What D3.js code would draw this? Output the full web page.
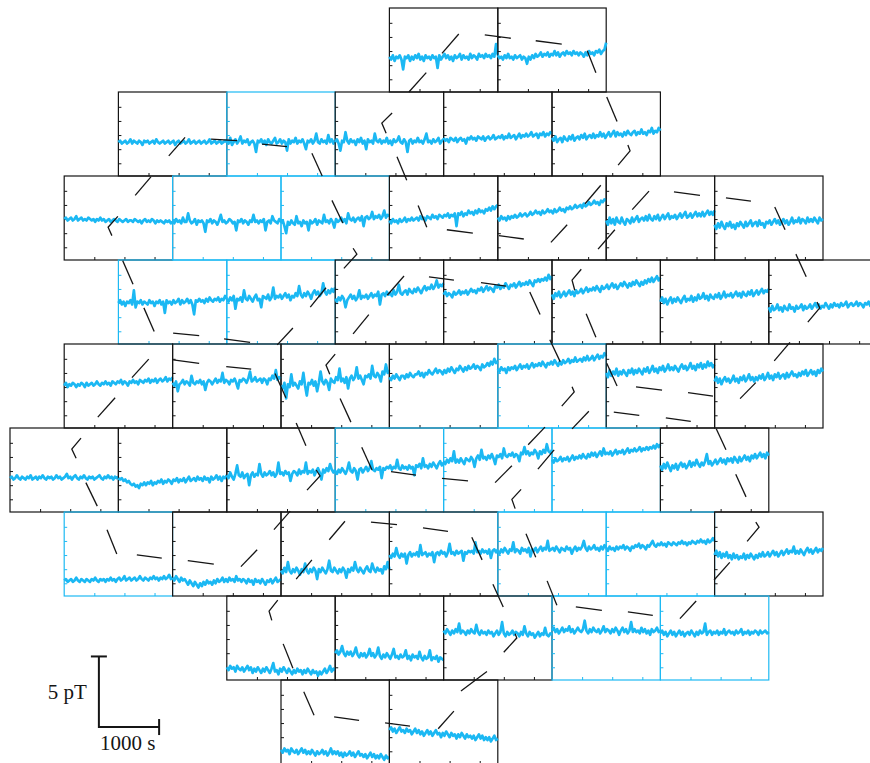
<!DOCTYPE html>
<html>
<head>
<meta charset="utf-8">
<script src="https://cdn.jsdelivr.net/npm/d3@7"></script>
<style>
  html, body { margin: 0; padding: 0; background: #fff; }
  svg { display: block; }
</style>
</head>
<body>
<svg id="chart" width="870" height="763"></svg>
<script>
// Sensor layout: row index and column in half-panel steps
const sensorRow = [0,0, 1,1,1,1,1, 2,2,2,2,2,2,2, 3,3,3,3,3,3,3, 4,4,4,4,4,4,4, 5,5,5,5,5,5,5, 6,6,6,6,6,6,6, 7,7,7,7,7, 8,8];
const sensorCol = [7,9, 2,4,6,8,10, 1,3,5,7,9,11,13, 2,4,6,8,10,12,14, 1,3,5,7,9,11,13, 0,2,4,6,8,10,12, 1,3,5,7,9,11,13, 4,6,8,10,12, 5,7];
// Sensor group: "A" regular channels, "B" highlighted channels
const sensorGroup = ["A","A", "A","B","A","A","A", "A","B","B","A","A","A","A", "B","B","A","A","A","A","A",
  "A","A","A","A","B","A","A", "A","A","A","B","B","B","A", "B","A","A","A","B","B","A", "A","A","A","B","B", "A","A"];

// Axis ticks
const timeTicks = [500, 1000, 1500];   // s
const fieldTicks = [-2, -1, 0, 1, 2];  // pT
const timeSpan = 1800;                 // s per panel

// Field recordings per sensor (pT), evenly sampled over the panel time span
const sensorTraces = [
  // row 0
  [-.4,-.6,-.3,-.7,-.4,-.5,-.3,-.6,-1.3,-.4,-.5,-.3,-.7,-.4,-.6,-.3,-.5,-.2,-.6,-.4,-.7,-.3,-.5,-.4,-.6,-.3,-.5,-.4,-1.2,-.3,-.6,-.4,-.2,-.5,-.3,-.6,-.4,-.7,-.3,-.5,-.4,-.2,-.6,-.3,-.5,-.4,-.6,-.2,-.5,-.3,-.4,-.6,-.2,-.4,-.3,-.5,-.2,-.4,-.3,-.5,-.2,-.4,.5,-.3],
  [-.3,-.5,-.4,-.6,-.3,-.5,-.2,-.5,-.4,-.6,-.3,-.5,-.4,-.3,-.6,-.4,-.5,-.9,-.4,-.6,-.3,-.5,-.2,-.4,-.3,-.1,-.4,-.2,-.3,-.1,-.4,-.2,-.3,0,-.3,-.1,-.4,-.2,-.1,-.3,0,-.2,-.1,-.3,0,-.2,-.1,-.3,-.1,-.2,-.4,-.1,-.3,0,-.2,-.1,-.3,0,-.1,.1,-.2,0,.1,.6],
  // row 1
  [-.5,-.4,-.6,-.5,-.4,-.6,-.5,-.3,-.6,-.4,-.5,-.6,-.4,-.5,-.7,-.4,-.5,-.4,-.6,-.5,-.4,-.6,-.3,-.5,-.6,-.5,-.4,-.6,-.5,-.4,-.6,-.5,-.4,-.7,-.5,-.4,-.6,-.5,-.4,-.6,-.5,-.3,-.6,-.5,-.4,-.6,-.5,-.4,-.6,-.5,-.4,-.6,-.5,-.3,-.6,-.5,-.4,-.6,-.5,-.4,-.6,-.5,-.4,-.5],
  [-.4,-.6,-.2,-.7,-.5,-.3,-.6,-.4,-.1,-.6,-.4,-.5,-.3,-.7,-.5,-.4,-.6,-1.2,-.4,-.5,-.3,-.6,-.4,-.7,-.3,-.5,-.6,-.4,-.2,-.6,-.5,-.3,-.6,-.4,-.5,-1.1,-.3,-.6,-.4,-.5,-.2,-.6,-.4,-.5,-.3,-.6,-1.0,-.4,-.5,-.3,-.6,-.4,.1,-.5,-.6,-.3,-.5,-.4,-.6,0,-.5,-.3,-.6,-.4],
  [-.5,-.3,-.6,-1.1,-.4,-.5,.2,-.4,-.6,-.3,-.5,-.4,-.7,-.3,-.5,-.2,-.6,-.4,-1.0,-.3,-.5,-.4,-.6,.1,-.4,-.5,-.3,-.6,-.4,-.5,-.2,-.6,-.4,-.7,-.3,-.5,-.4,-.1,-.5,-.6,-.3,-.5,-1.2,-.4,-.3,-.6,-.4,-.5,-.2,-.5,-.4,-.6,-.3,.1,-.5,-.4,-.6,-.3,-.5,-.4,-.2,-.6,-.4,-.3],
  [-.2,-.4,-.3,-.5,-.2,-.3,-.4,-.2,-.5,-.3,-.2,-.4,-.3,-.6,-.2,-.3,-.1,-.3,-.2,-.4,-.1,-.2,-.3,-.1,-.4,-.2,-.1,-.3,-.2,0,-.3,-.2,-.1,-.2,0,-.3,-.1,-.2,.1,-.2,-.1,0,-.3,-.1,.1,-.2,0,-.1,.1,-.1,0,.2,-.1,0,.1,-.2,.1,0,.2,-.1,.1,0,.2,.1],
  [-.2,-.4,-.1,-.5,-.3,-.2,-.5,-.1,-.3,-.4,-.1,-.3,0,-.4,-.2,-.1,-.3,0,-.2,.1,-.3,-.1,0,-.2,.1,-.2,0,-.1,.2,-.1,.1,-.2,0,.2,-.1,.1,.3,-.1,.2,0,.1,-.1,.2,0,.3,.1,0,.2,.3,0,.2,.1,.4,.1,.2,0,.3,.2,.5,.1,.3,.2,.5,.3],
  // row 2
  [0,.1,-.1,0,.1,-.1,0,.2,-.1,0,.1,-.1,0,-.1,.1,0,-.1,0,-.2,0,-.1,.1,-.1,0,-.2,-.1,0,-.2,-.1,0,-.1,-.2,0,-.1,-.2,-.1,0,-.2,-.1,-.1,-.2,0,-.1,-.2,-.1,-.3,-.1,0,-.2,-.1,-.2,0,-.1,-.3,-.1,-.2,-.1,-.2,-.3,-.1,-.2,-.1,-.3,-.2],
  [-.1,-.3,0,-.2,-.1,-.3,.1,-.2,-.2,.4,-.1,-.3,-.2,0,-.4,-.1,-.2,-.1,-.3,-.9,-.1,-.2,0,-.3,-.1,-.2,-.4,-.1,.3,-.2,-.1,-.3,-.2,0,-.1,-.3,-.2,-.8,-.1,-.2,0,-.3,-.1,-.2,-.4,-.1,-.2,.3,-.2,-.1,-.3,-.1,-.2,0,-.8,-.2,-.1,-.3,.2,-.1,-.2,-.3,0,-.2],
  [-.3,-.1,-.5,-1.0,-.2,-.4,-.1,-.3,-.4,.2,-.3,-.2,-.5,-.1,-.3,-.2,-.8,-.1,-.3,-.2,0,-.4,-.1,-.2,-.3,.3,-.2,-.1,-.3,0,-.2,-.6,0,-.2,-.1,.1,-.2,0,-.3,.4,0,-.1,.1,-.2,0,.1,-.1,.2,-.5,.1,.2,0,.1,.5,0,.2,.1,.3,0,.2,.6,.1,.3,.2],
  [-.1,-.3,0,-.2,-.1,-.3,0,-.2,-.1,.1,-.2,0,-.1,.1,-.1,0,.1,-.1,.2,0,.1,-.1,.2,.1,0,.3,.1,.2,0,.3,.2,.1,.3,.2,.4,.1,.3,.2,.4,-.5,.4,.3,.5,.2,.4,.3,.6,.4,.5,.3,.6,.4,.7,.5,.6,.4,.7,.6,.8,.6,.9,.7,.9,1.0],
  [.1,-.1,.2,0,.1,-.1,.2,0,.2,.1,.3,.1,.2,.4,.2,.3,.4,.2,.3,.5,.3,.4,.6,.4,.5,.3,.6,.4,.5,.7,.5,.6,.4,.7,.5,.6,.8,.6,.7,.5,.8,.7,.9,.7,.8,1.0,.8,.9,1.0,.8,1.1,.9,1.0,1.2,1.0,1.1,1.3,1.1,1.2,1.0,1.3,1.2,1.4,1.3],
  [-.1,-.4,.1,-.3,0,-.4,.1,-.2,-.3,.1,-.2,-.4,0,-.1,-.3,.1,-.2,0,.2,-.2,0,.1,-.1,.2,-.1,.3,0,-.1,.2,0,.3,-.1,.1,.3,0,.2,.4,0,.2,.1,.3,0,.2,.4,.1,.3,.5,.1,.2,.4,.1,.3,.5,.2,.4,.2,.5,.2,.4,.6,.3,.5,.3,.6],
  [-.4,-.7,-.3,-.6,-.2,-.5,-.7,-.3,-.5,-.2,-.6,-.4,-.7,-.3,-.5,-.2,-.4,-.6,-.2,-.5,-.3,-.1,-.5,-.3,-.2,-.5,-.1,-.4,-.3,-.6,-.2,-.3,-.1,-.4,-.2,0,-.3,-.1,-.4,-.2,0,-.3,-.1,-.4,-.2,.1,-.3,-.1,-.2,.1,-.3,0,-.1,-.3,.1,-.2,0,-.2,.1,-.1,-.3,.1,-.1,0],
  // row 3
  [0,.2,-.1,.1,-.2,.1,0,.2,-.1,.9,-.3,.1,0,.2,-.1,.1,0,-.1,.2,0,.1,-.2,.1,0,.2,-.1,.1,-.7,.2,0,.1,-.1,.2,0,.1,.3,-.1,.2,0,.1,.3,0,.2,-.1,-.8,.2,.1,.3,.1,.2,0,.3,.1,.4,.2,.1,.3,.2,.4,.1,.3,.2,.5,.3],
  [.3,.1,.4,.2,.5,-.4,.3,.2,.4,.1,.9,.3,.2,.5,.3,.1,.4,.6,.2,.3,-.3,.5,.4,.3,.6,.2,.4,1.1,.3,.5,.4,.6,.3,.5,.7,.4,.6,.2,.5,.4,.7,.5,1.2,.6,.4,.7,.5,.8,.6,.3,.7,.9,.6,.8,.5,.7,1.4,.8,.6,.9,.7,1.0,.8,1.1],
  [.3,.1,.4,.2,.5,.3,-.3,.2,.4,.6,.3,.5,.2,.4,.9,.3,.5,.4,.6,.3,.5,.7,.4,.6,.5,.8,-.1,.6,.7,.5,.8,.6,.7,.5,.9,.6,.8,1.3,.7,.6,.8,.9,.6,1.0,.8,.7,1.0,.8,1.1,.9,.7,1.0,1.2,.9,1.1,1.0,1.3,1.0,1.2,1.6,1.1,1.3,1.2,1.4],
  [.6,.8,.5,.7,.6,.4,.8,.6,.7,.9,.6,.8,.7,.9,.6,.8,1.0,.8,.9,.7,1.0,.9,1.1,.8,1.0,1.2,.9,1.1,1.0,.8,1.2,1.1,1.3,1.0,1.2,1.1,1.4,1.2,1.0,1.3,1.2,1.4,1.1,1.3,1.5,1.2,1.4,1.3,1.5,1.3,1.6,1.4,1.2,1.6,1.5,1.7,1.5,1.7,1.6,1.8,1.6,2.0,1.7,1.9],
  [.6,.3,.7,.5,.8,.4,.6,.8,.5,.7,.9,.6,.8,.5,.9,.7,.8,1.0,.7,.9,1.1,.8,1.0,.9,1.1,.9,1.2,1.0,.8,1.2,1.0,1.1,1.3,1.0,1.2,1.4,1.1,1.3,1.0,1.2,1.4,1.2,1.5,1.3,1.1,1.4,1.2,1.5,1.3,1.6,1.4,1.2,1.5,1.3,1.6,1.4,1.7,1.5,1.8,1.5,1.7,1.9,1.6,1.8],
  [.1,.4,0,.3,-.1,.2,.4,0,.3,.1,.4,.2,0,.3,.5,.1,.3,.2,.5,.1,.4,.2,.6,.3,.4,.7,.3,.5,.2,.6,.4,.3,.6,.4,.7,.3,.5,.8,.4,.6,.5,.7,.4,.6,.8,.5,.7,.4,.8,.6,.5,.8,.6,.9,.5,.7,.9,.6,.8,1.0,.7,.9,.8,1.0],
  [-.3,-.6,-.2,-.5,-.4,-.1,-.5,-.3,-.6,-.2,-.4,-.5,-.1,-.4,-.3,-.6,-.2,-.4,-.3,-.1,-.5,-.2,-.4,-.3,-.1,-.4,-.2,0,-.3,-.1,-.4,-.2,-.3,0,-.2,-.4,-.1,-.3,0,-.2,-.1,-.3,0,-.2,-.1,.1,-.3,-.1,0,-.2,-.1,.1,-.2,0,-.1,-.3,0,-.1,.1,-.2,0,.1,-.1,0],
  // row 4
  [.1,.3,0,.2,.1,.3,.2,0,.2,.1,.3,.2,0,.3,.1,.2,.3,.1,.2,.4,.2,.1,.3,.2,.4,.2,.3,.1,.4,.3,.2,.4,.3,.5,.2,.4,.3,.1,.4,.3,.5,.3,.4,.2,.5,.4,.3,.5,.4,.6,.3,.5,.4,.6,.3,.5,.6,.4,.5,.7,.4,.6,.5,.7],
  [.3,.1,.4,-.3,.2,.3,.5,.2,.4,.3,.1,.8,.3,.2,.4,.3,.5,.2,.4,-.2,.3,.5,.4,.2,.4,.6,.3,.5,.4,1.0,.3,.5,.4,.2,.5,.4,.6,.3,-.1,.5,.4,.6,.5,.3,.6,1.1,.4,.5,.7,.4,.5,.6,.3,.6,.5,.2,.6,.5,.8,.6,1.2,.5,.7,.6],
  [.1,-.1,.3,-.8,.2,0,.9,.1,.3,.1,-.1,.4,.2,1.0,.1,-.6,.3,.2,.5,.1,.4,-.3,.3,1.1,.4,.2,.5,.3,-.2,.6,.4,.3,.7,.5,1.3,.4,.6,.3,.7,-.1,.6,.8,.5,.7,1.4,.6,.8,.5,.2,.8,.7,.9,.6,1.5,.8,.7,1.0,.8,.4,1.1,.9,1.6,1.0,1.2],
  [.7,.5,.8,.6,.9,.7,.5,.8,.8,.6,.9,.7,1.0,.8,.7,.9,.9,1.1,.8,1.0,.7,1.0,.9,1.2,1.0,.9,1.1,1.3,1.0,1.2,1.1,.9,1.2,1.0,1.3,1.1,1.4,1.2,1.0,1.3,1.2,1.5,1.3,1.1,1.4,1.2,1.5,1.3,1.4,1.6,1.3,1.5,1.4,1.2,1.6,1.4,1.5,1.7,1.5,1.8,1.6,2.0,1.7,1.8],
  [1.3,1.1,1.4,1.2,1.3,1.0,1.4,1.2,1.4,1.3,1.5,1.2,1.4,1.6,1.3,1.5,1.4,1.6,1.3,1.5,1.7,1.4,1.6,1.5,1.7,1.5,1.8,1.6,1.4,1.7,1.6,1.8,1.6,1.9,1.7,1.5,1.8,1.6,1.9,1.7,1.8,2.0,1.7,1.9,1.8,2.1,1.8,1.9,2.0,1.8,2.1,1.9,2.2,1.9,2.0,2.2,1.9,2.1,2.3,2.0,2.2,2.1,2.4,2.2],
  [1.0,.7,1.2,.8,1.1,.9,1.3,.8,1.1,.9,1.2,1.0,.8,1.2,1.0,1.3,.9,1.2,1.0,1.3,1.1,.9,1.3,1.1,1.4,1.0,1.2,1.5,1.1,1.3,1.0,1.4,1.2,1.5,1.1,1.3,1.6,1.2,1.4,1.2,1.5,1.3,1.1,1.4,1.6,1.3,1.5,1.2,1.4,1.7,1.3,1.5,1.2,1.6,1.4,1.7,1.3,1.6,1.4,1.8,1.5,1.7,1.4,1.6],
  [.4,.7,.3,.6,.2,.5,.7,.4,.6,.3,.5,.8,.4,.6,.3,.7,.5,.8,.4,.6,.9,.5,.7,.4,.7,.5,.8,.6,.9,.5,.7,1.0,.6,.8,.5,.9,.7,1.0,.6,.8,.9,.6,1.0,.7,.9,1.1,.8,.9,.7,1.0,.8,1.1,.9,1.2,.8,1.0,1.2,.9,1.1,.8,1.2,1.0,1.3,1.1],
  // row 5
  [-.5,-.4,-.6,-.5,-.3,-.5,-.6,-.4,-.5,-.6,-.4,-.5,-.3,-.6,-.5,-.4,-.6,-.4,-.5,-.3,-.5,-.6,-.4,-.5,-.4,-.6,-.5,-.3,-.5,-.4,-.6,-.5,-.4,-.2,-.5,-.4,-.6,-.4,-.3,-.5,-.6,-.4,-.5,-.3,-.5,-.6,-.4,-.5,-.4,-.6,-.5,-.4,-.3,-.5,-.6,-.4,-.5,-.3,-.5,-.4,-.6,-.4,-.5,-.4],
  [-.5,-.6,-.5,-.7,-.6,-.8,-.7,-.9,-1.0,-.9,-1.1,-1.0,-1.2,-.9,-1.0,-.8,-1.0,-.8,-.9,-.7,-1.0,-.8,-.9,-.7,-.8,-.6,-.9,-.7,-.8,-.6,-.7,-.9,-.6,-.7,-.5,-.8,-.6,-.7,-.5,-.8,-.6,-.4,-.7,-.6,-.5,-.7,-.4,-.6,-.5,-.7,-.4,-.6,-.5,-.8,-.4,-.6,-.5,-.3,-.6,-.4,-.7,-.4,-.5,-.3],
  [-.3,-.5,-.1,-.4,-.6,-.2,.4,-.3,-.4,-.1,-.5,-.3,-.2,-1.0,-.3,-.1,-.4,-.2,-.3,.5,-.2,-.4,-.1,-.3,-.2,0,-.3,-.1,-.4,-.2,.6,-.2,-.1,-.3,0,-.2,-.1,-.7,-.2,0,-.1,-.3,.1,-.2,0,-.1,.6,-.2,0,-.1,.1,-.3,0,.2,-.1,-.6,.1,-.1,.2,0,.5,.1,-.1,.1],
  [0,-.2,.1,-.1,.2,0,-.2,.1,.6,0,-.1,.2,0,-.6,.1,.2,-.1,.1,.3,0,.2,.7,.1,0,.2,.1,.3,-.5,.2,.1,.3,.2,.4,.1,.3,.2,.8,.2,.1,.4,.2,.3,.1,.4,.2,.3,-.3,.4,.3,.5,.2,.9,.3,.4,.2,.5,.3,.6,.4,.2,.5,.7,.4,.6],
  [.7,.5,.8,.6,.9,.7,1.4,.6,.8,.6,.9,.7,.5,.9,.8,.7,1.0,.8,.3,.9,1.1,.8,1.5,.9,1.0,.8,1.1,.9,1.2,.9,.5,1.1,1.0,1.2,.9,1.6,1.1,1.0,1.2,1.1,1.3,1.0,1.2,1.1,.7,1.3,1.2,1.7,1.2,1.4,1.1,1.3,1.2,1.5,1.3,.9,1.4,1.2,1.5,1.3,1.9,1.4,1.3,1.5],
  [.8,.6,.9,.7,.8,1.0,.7,.9,.8,1.0,.7,.9,1.1,.8,1.0,.9,1.1,.9,1.2,1.0,.9,1.2,1.0,1.3,1.1,1.3,1.0,1.2,1.4,1.1,1.6,1.2,1.3,1.2,1.4,1.1,1.3,1.5,1.2,1.4,1.3,1.5,1.2,1.4,1.6,1.3,1.5,1.4,1.6,1.4,1.5,1.7,1.4,1.6,1.5,1.7,1.5,1.7,1.6,1.8,1.6,1.9,1.7,1.9],
  [.4,.1,.5,.2,.6,.3,0,.4,.2,.5,.1,.4,.6,.3,.5,.2,.4,.7,.3,.6,.4,.8,.5,.3,.6,.4,.7,1.2,.5,.7,.4,.6,.8,.5,.7,.9,.6,.8,.5,.9,.7,.9,.6,1.0,.8,.6,1.0,.7,.9,1.1,.8,1.0,.7,1.1,.9,1.2,.9,1.1,1.3,1.0,1.2,.9,1.3,1.1],
  // row 6
  [-1.8,-1.7,-1.9,-1.8,-1.7,-1.9,-1.8,-1.6,-1.8,-1.9,-1.7,-1.8,-1.9,-1.7,-1.8,-1.9,-1.7,-1.8,-1.6,-1.8,-1.9,-1.7,-1.8,-1.7,-1.9,-1.7,-1.8,-1.6,-1.8,-1.7,-1.9,-1.7,-1.6,-1.8,-1.7,-1.5,-1.8,-1.7,-1.6,-1.8,-1.7,-1.6,-1.8,-1.7,-1.5,-1.7,-1.8,-1.6,-1.7,-1.8,-1.6,-1.7,-1.5,-1.7,-1.6,-1.8,-1.6,-1.7,-1.5,-1.7,-1.6,-1.4,-1.7,-1.6],
  [-1.6,-1.8,-1.5,-1.7,-1.9,-1.6,-1.8,-1.7,-1.9,-2.1,-1.8,-2.0,-2.2,-1.9,-2.1,-2.3,-2.0,-2.2,-1.9,-2.1,-1.8,-2.0,-1.9,-2.1,-1.8,-2.0,-1.7,-1.9,-1.8,-1.6,-1.9,-1.7,-1.9,-1.6,-1.8,-1.7,-1.9,-1.5,-1.8,-1.7,-1.9,-1.7,-1.8,-2.0,-1.7,-1.9,-1.8,-2.1,-1.7,-1.9,-1.8,-2.0,-1.7,-1.9,-2.1,-1.8,-1.9,-1.7,-2.0,-1.8,-1.6,-1.9,-1.8,-1.7],
  [-1.1,-1.3,-.9,-1.2,-.5,-1.1,-1.3,-1.0,-1.2,-.9,-1.1,-1.4,-1.0,-1.2,-.6,-1.1,-1.3,-1.0,-1.2,-.9,-1.1,-1.7,-1.0,-1.2,-.9,-1.1,-1.3,-1.0,-.4,-1.1,-1.2,-.9,-1.1,-1.3,-1.0,-1.2,-.9,-1.1,-1.6,-1.0,-1.2,-.9,-1.1,-.5,-1.0,-1.2,-.9,-1.1,-1.3,-1.0,-.8,-1.1,-1.2,-.6,-1.0,-1.2,-.9,-1.1,-1.0,-1.3,-.8,-1.0,-.5,-1.0],
  [0,-.2,.1,-.1,.5,0,-.2,.1,-.1,.1,-.6,0,.2,-.1,.1,0,.2,-.1,.7,0,.1,.2,-.1,.1,0,.2,-.5,.1,.2,0,.3,.1,.2,-.1,.2,.8,.1,.2,0,.3,.1,.2,.3,-.4,.2,.1,.3,.2,.3,.1,.9,.2,.3,.1,.4,.2,.3,.1,.4,-.2,.3,.4,.2,.4],
  [.3,.1,.4,.2,.5,.3,.1,.4,.3,.9,.2,.4,.3,.1,.5,.3,.4,.2,.5,-.1,.4,.3,.5,.2,.4,.6,.3,.5,.4,1.0,.3,.4,.5,.3,.6,.4,.2,.5,.4,.3,.6,.4,.5,.1,.4,.6,.3,.5,.4,.6,1.0,.5,.3,.6,.4,.5,.7,.4,.5,.3,.6,.4,.7,.5],
  [.5,.3,.6,.4,.5,.3,.6,.4,.6,.5,.7,.4,.6,.5,.3,.6,.5,.7,.6,.8,.5,.7,.6,.4,.7,.6,.8,1.0,.7,.6,.8,.7,.9,.7,.8,.6,.9,.8,.7,.9,.8,.7,.9,.8,1.0,.8,.9,.7,.9,.8,1.0,.9,.8,1.0,.9,1.1,.9,1.0,.8,1.1,.9,1.0,1.2,1.0],
  [0,.3,-.1,.2,-.2,.1,-.1,.2,-.2,0,-.3,.1,-.2,0,-.3,-.1,-.2,.1,-.3,0,-.2,.1,-.1,-.3,0,-.2,.1,-.1,.2,-.1,0,.2,-.1,.1,.3,0,.2,-.1,.1,.3,0,.2,.4,.1,.3,.2,.6,.1,.3,.1,.4,.2,0,.3,.5,.2,.4,.1,.3,.5,.2,.4,.3,.5],
  // row 7
  [-2.0,-2.2,-1.9,-2.1,-2.0,-2.3,-1.9,-2.1,-2.2,-2.0,-2.3,-2.1,-1.9,-2.2,-2.0,-2.4,-2.1,-2.3,-2.0,-2.2,-2.4,-2.1,-2.3,-2.0,-2.2,-2.4,-2.1,-1.7,-2.3,-2.2,-2.5,-2.1,-2.3,-2.0,-2.2,-2.4,-2.1,-2.3,-2.5,-2.2,-2.4,-2.1,-2.3,-2.2,-2.5,-2.2,-2.4,-2.1,-2.3,-2.5,-2.2,-2.4,-2.3,-2.6,-2.3,-2.5,-2.3,-2.1,-2.4,-2.2,-1.9,-2.3,-2.1,-2.2],
  [-1.0,-.8,-1.1,-.9,-.5,-1.0,-1.2,-.9,-1.1,-.9,-1.2,-1.0,-.6,-1.1,-1.3,-1.0,-1.2,-1.0,-1.3,-1.1,-.7,-1.2,-1.0,-1.3,-1.1,-.6,-1.2,-1.4,-1.1,-1.3,-1.0,-1.2,-1.4,-1.1,-.7,-1.3,-1.2,-1.4,-1.1,-1.3,-1.2,-.8,-1.4,-1.2,-1.5,-1.1,-1.3,-1.2,-1.4,-.9,-1.3,-1.5,-1.2,-1.4,-1.3,-.8,-1.5,-1.3,-1.4,-1.2,-1.6,-1.3,-1.4,-1.5],
  [.6,.4,.7,.5,.3,.6,.4,.7,.5,1.1,.4,.6,.5,.3,.6,.4,.7,.5,.4,1.0,.5,.3,.6,.4,.5,.3,.6,.4,.5,.2,.4,.6,.3,.5,1.2,.4,.2,.5,.3,.4,.6,.3,.5,.4,.2,.5,.3,.9,.4,.2,.5,.3,.4,.1,.3,.5,.2,.4,.3,.8,.3,.2,.4,.3],
  [.6,.8,.5,.7,.4,.6,.8,.5,.7,.6,.9,.5,.7,.4,.6,.8,.6,.5,.7,1.3,.6,.4,.7,.5,.8,.6,.5,.7,.4,.6,.9,.5,.7,.6,.4,.7,.5,.8,.6,.3,.6,.8,.5,.7,.4,.6,1.2,.5,.7,.5,.6,.4,.8,.5,.7,.4,.6,.3,.7,.5,.6,.8,.5,.6],
  [.4,.6,.3,.5,.2,.4,.6,.3,.5,.2,.4,.6,.3,.5,.2,.4,.5,.3,.6,.4,.2,.5,.3,.6,.4,.5,1.1,.3,.5,.6,.3,.5,.4,.6,.3,.5,.4,.7,.3,.5,.6,.4,.5,.3,.6,.4,.5,.7,.3,.5,.4,.6,.3,.5,.4,.6,.5,.3,.6,.4,.5,.6,.4,.5],
  // row 8
  [-1.9,-2.1,-1.8,-2.0,-1.9,-2.2,-1.8,-2.0,-2.1,-1.9,-2.2,-2.0,-1.8,-2.1,-1.9,-2.2,-2.0,-2.2,-1.9,-2.1,-2.3,-2.0,-2.2,-2.1,-1.9,-2.2,-2.0,-2.3,-2.1,-1.8,-2.2,-2.0,-2.2,-2.0,-2.3,-2.1,-2.4,-2.1,-2.3,-2.2,-2.0,-2.3,-2.1,-2.4,-2.2,-2.0,-2.3,-2.2,-2.4,-2.2,-2.5,-2.3,-2.1,-2.4,-2.2,-2.5,-2.3,-2.5,-2.2,-2.4,-2.6,-2.3,-2.5,-2.4],
  [-.5,-.3,-.6,-.4,-.7,-.5,-.3,-.6,-.5,-.7,-.4,-.6,-.5,-.8,-.6,-.4,-.7,-.5,-.8,-.6,-.9,-.7,-.5,-.8,-.6,-.9,-.7,-.5,-.8,-.7,-1.0,-.7,-.9,-.6,-.8,-1.0,-.7,-.9,-.8,-1.1,-.8,-1.0,-.7,-.9,-1.1,-.8,-1.0,-.9,-1.1,-.9,-1.2,-1.0,-.8,-1.1,-.9,-1.2,-1.0,-1.2,-1.0,-1.3,-1.1,-.9,-1.2,-1.1]
];

// Dashed outline overlay, in layout units (x: half-panel columns, y: rows)
const outlineDashes = [
  [[7.36,1.00],[7.68,0.77]], [[3.23,1.54],[2.93,1.76]], [[3.71,1.56],[4.19,1.58]], [[4.65,1.62],[5.11,1.65]],
  [[5.57,1.73],[5.76,2.00]], [[7.05,1.25],[6.86,1.37],[6.94,1.49]], [[7.14,1.77],[7.32,2.05]], [[2.60,2.01],[2.31,2.23]],
  [[1.99,2.48],[1.81,2.61],[1.88,2.71]], [[5.94,2.29],[6.14,2.56]], [[7.53,2.35],[7.69,2.61]], [[6.33,2.86],[6.40,2.93],[6.16,3.10]],
  [[2.08,3.01],[2.27,3.29]], [[2.47,3.57],[2.66,3.85]], [[3.01,3.87],[3.49,3.90]], [[3.95,3.94],[4.43,3.98]],
  [[5.22,3.81],[4.93,4.01]], [[5.83,3.33],[5.54,3.56]], [[7.27,3.19],[6.96,3.42]], [[6.62,3.65],[6.33,3.88]],
  [[7.73,3.20],[8.19,3.24]], [[2.56,4.18],[2.25,4.40]], [[3.01,4.19],[3.49,4.23]], [[3.99,4.27],[4.45,4.30]],
  [[6.00,4.12],[5.83,4.25],[5.90,4.36]], [[4.89,4.35],[5.09,4.64]],
  [[7.97,0.54],[8.28,0.31]], [[8.76,0.32],[9.24,0.36]], [[9.70,0.39],[10.18,0.43]], [[10.65,0.51],[10.81,0.77]],
  [[11.01,1.06],[11.20,1.35]], [[11.40,1.63],[11.44,1.70],[11.22,1.87]], [[8.06,2.64],[8.54,2.68]], [[9.02,2.71],[9.48,2.75]],
  [[10.28,2.58],[9.98,2.79]], [[10.90,2.11],[10.61,2.33]], [[11.79,2.18],[11.48,2.40]], [[12.25,2.19],[12.73,2.23]],
  [[13.21,2.26],[13.67,2.30]], [[14.11,2.37],[14.30,2.64]], [[11.16,2.64],[10.85,2.87]], [[14.50,2.93],[14.69,3.20]],
  [[14.89,3.50],[14.94,3.57],[14.72,3.74]], [[8.69,3.27],[9.15,3.31]], [[9.59,3.38],[9.78,3.65]], [[10.54,3.11],[10.37,3.24],[10.42,3.36]],
  [[10.63,3.64],[10.81,3.92]], [[9.96,3.95],[10.15,4.21]], [[14.39,3.98],[14.10,4.20]], [[11.01,4.23],[11.20,4.50]],
  [[1.94,4.64],[1.62,4.87]], [[6.09,4.65],[6.29,4.93]], [[1.31,5.12],[1.14,5.25],[1.22,5.36]], [[1.40,5.65],[1.61,5.93]],
  [[5.28,4.94],[5.46,5.21]], [[5.65,5.50],[5.72,5.57],[5.48,5.74]], [[6.49,5.23],[6.68,5.50]], [[7.03,5.52],[7.49,5.56]],
  [[1.79,6.21],[1.97,6.50]], [[2.34,6.51],[2.80,6.55]], [[3.28,6.58],[3.76,6.62]], [[4.56,6.45],[4.26,6.65]],
  [[5.17,5.99],[4.87,6.21]], [[6.18,6.11],[5.89,6.33]], [[6.66,6.12],[7.14,6.15]], [[7.62,6.19],[8.08,6.23]],
  [[5.57,6.57],[5.28,6.80]], [[4.94,7.05],[4.78,7.18],[4.83,7.29]], [[5.04,7.57],[5.22,7.86]], [[5.42,8.14],[5.61,8.42]],
  [[5.98,8.44],[6.44,8.48]], [[6.92,8.51],[7.38,8.55]],
  [[11.55,4.51],[12.03,4.55]], [[12.51,4.58],[12.97,4.62]], [[11.14,4.81],[11.61,4.85]], [[12.10,4.88],[12.56,4.92]],
  [[10.37,4.51],[10.41,4.57],[10.18,4.74]], [[10.68,4.80],[10.37,5.01]], [[13.76,4.46],[13.47,4.65]], [[9.87,4.99],[9.56,5.20]],
  [[10.04,5.26],[9.74,5.49]], [[7.97,5.60],[8.45,5.63]], [[9.26,5.45],[8.95,5.65]], [[9.43,5.73],[9.26,5.85],[9.32,5.96]],
  [[13.03,5.01],[13.21,5.26]], [[13.39,5.55],[13.58,5.82]], [[8.52,6.30],[8.71,6.57]], [[9.52,6.26],[9.70,6.54]],
  [[13.76,6.12],[13.82,6.18],[13.60,6.35]], [[13.28,6.60],[12.99,6.81]], [[8.91,6.86],[9.10,7.13]], [[9.91,6.82],[10.09,7.11]],
  [[10.44,7.13],[10.92,7.17]], [[11.40,7.19],[11.86,7.23]], [[12.66,7.06],[12.36,7.27]], [[9.32,7.45],[9.35,7.50],[9.11,7.67]],
  [[8.80,7.90],[8.32,8.13]], [[8.19,8.37],[7.90,8.58]]
];

// Scale bar: origin in layout units and the lengths it represents
const scaleBarOrigin = [1.64, 8.56];
const scaleBarTime = 1000;  // s
const scaleBarField = 5;    // pT

const svg = d3.select("#chart");
svg.append("rect").attr("width", 870).attr("height", 763).attr("fill", "#fff");

// Layout scales
const gridX = d3.scaleLinear().domain([0, 16]).range([10, 10 + 16 * 54.2]);
const gridY = d3.scaleLinear().domain([0, 9]).range([8, 8 + 9 * 84]);
const panelW = gridX(2) - gridX(0);
const panelH = gridY(1) - gridY(0);

// Scales inside each panel
const tScale = d3.scaleLinear().domain([0, timeSpan]).range([0, panelW]);
const bScale = d3.scaleLinear().domain([-2.9, 3.05]).range([panelH, 0]);

const frameColor = d3.scaleOrdinal().domain(["A", "B"]).range(["#151515", "#1db9f3"]);
const traceColor = "#1bb8f3";

const trace = d3.line()
  .x((d, k, arr) => tScale(k * timeSpan / (arr.length - 1)))
  .y(d => bScale(d));

sensorRow.forEach((row, i) => {
  const col = frameColor(sensorGroup[i]);
  const g = svg.append("g")
    .attr("transform", `translate(${gridX(sensorCol[i])},${gridY(row)})`);

  g.append("rect")
    .attr("width", panelW).attr("height", panelH)
    .attr("fill", "none").attr("stroke", col).attr("stroke-width", 1.2);

  g.append("g")
    .call(d3.axisLeft(bScale).tickValues(fieldTicks).tickSize(-3).tickFormat(""))
    .call(s => s.select(".domain").remove())
    .selectAll("line").attr("stroke", col).attr("stroke-width", 1);

  g.append("g")
    .attr("transform", `translate(0,${panelH})`)
    .call(d3.axisBottom(tScale).tickValues(timeTicks).tickSize(-3).tickFormat(""))
    .call(s => s.select(".domain").remove())
    .selectAll("line").attr("stroke", col).attr("stroke-width", 1);

  g.append("path")
    .datum(sensorTraces[i])
    .attr("d", d => trace(d))
    .attr("fill", "none")
    .attr("stroke", traceColor)
    .attr("stroke-width", 2.7)
    .attr("stroke-linejoin", "round");
});

// Dashed outline overlay
const outlineLine = d3.line().x(p => gridX(p[0])).y(p => gridY(p[1]));
svg.append("g")
  .selectAll("path")
  .data(outlineDashes)
  .join("path")
  .attr("d", outlineLine)
  .attr("fill", "none")
  .attr("stroke", "#151515")
  .attr("stroke-width", 1.3);

// Scale bar
const sx = gridX(scaleBarOrigin[0]);
const sy = gridY(scaleBarOrigin[1]);
const lenX = tScale(scaleBarTime) - tScale(0);
const lenY = bScale(0) - bScale(scaleBarField);
const bar = svg.append("g").attr("stroke", "#151515").attr("stroke-width", 2).attr("fill", "none");
bar.append("path").attr("d", `M${sx},${sy - lenY}V${sy}H${sx + lenX}`);
bar.append("path").attr("d", `M${sx - 8},${sy - lenY}H${sx + 8}`);
bar.append("path").attr("d", `M${sx + lenX},${sy - 8}V${sy + 8}`);

const labelFont = "'Liberation Serif', 'Times New Roman', serif";
svg.append("text")
  .attr("x", sx - 12).attr("y", sy - lenY / 2 + 7)
  .attr("text-anchor", "end")
  .attr("font-family", labelFont).attr("font-size", 21).attr("fill", "#151515")
  .text(`${scaleBarField} pT`);
svg.append("text")
  .attr("x", sx + 1).attr("y", sy + 23)
  .attr("font-family", labelFont).attr("font-size", 21).attr("fill", "#151515")
  .text(`${scaleBarTime} s`);
</script>
</body>
</html>
